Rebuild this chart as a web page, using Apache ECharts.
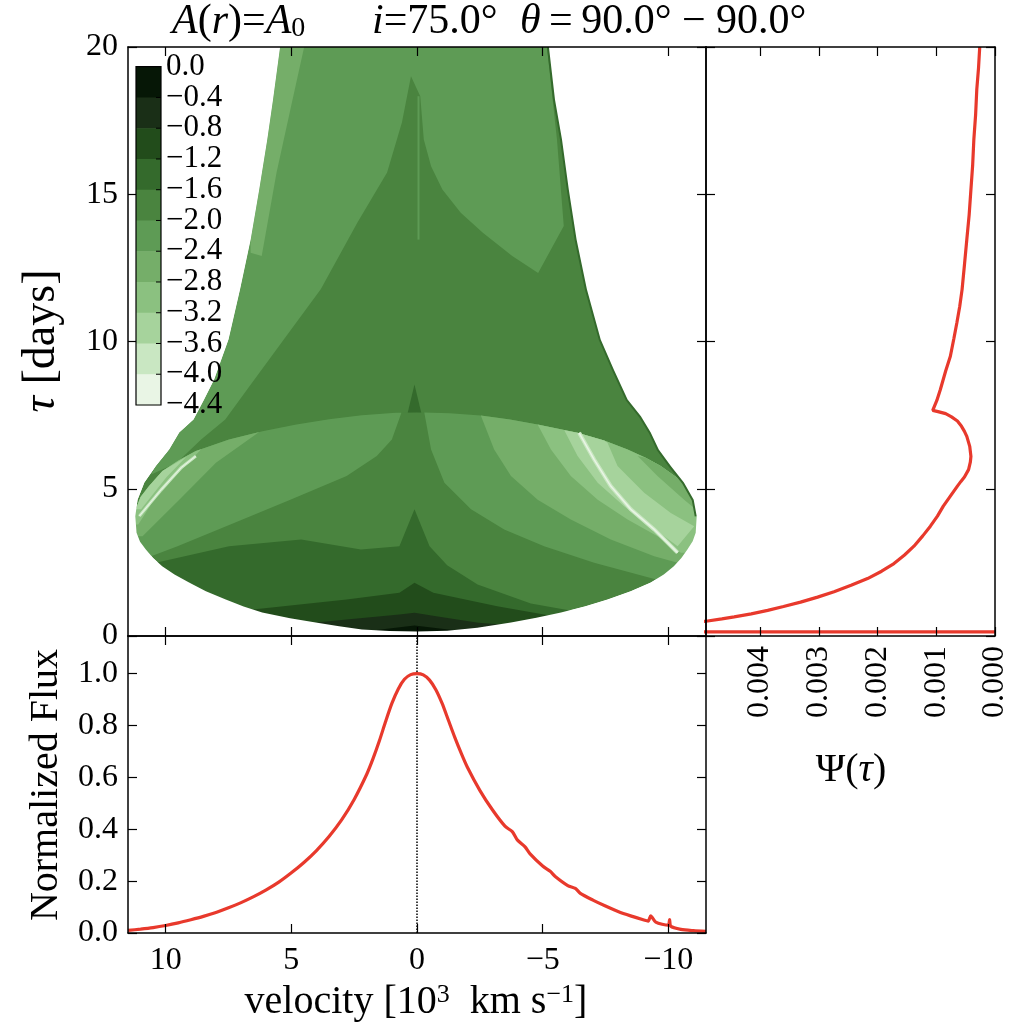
<!DOCTYPE html>
<html>
<head>
<meta charset="utf-8">
<script src="https://cdn.jsdelivr.net/npm/echarts@6/dist/echarts.min.js"></script>
<style>
  html, body { margin: 0; padding: 0; background: #fff; }
  #main { width: 1012px; height: 1028px; }
</style>
</head>
<body>
<div id="main"></div>
<script>
// colour levels of the transfer function (log10), darkest band first
var levelTicks = [0.0, -0.4, -0.8, -1.2, -1.6, -2.0, -2.4, -2.8, -3.2, -3.6, -4.0, -4.4];
var levelColors = ['#061706', '#1a2f17', '#224c1b', '#346a2c', '#4a843f', '#5e9b55',
                   '#75ae69', '#8bc180', '#a6d39c', '#c9e7c2', '#e9f5e5'];

// outlines of the filled regions, [velocity (10^3 km/s), delay (days)]
var towerLeftEdge = [[5.45,20],[5.73,18.22],[5.96,16.86],[6.28,15.16],[6.62,13.46],[7.04,11.77],[7.50,10.07],
  [8.07,8.71],[8.47,8.03],[8.89,7.35],[9.46,6.91],[9.86,6.33],[10.39,5.77],[10.85,5.21],[11.12,4.63]];
var ellipseBottom = [[11.21,4.07],[11.16,3.51],[11.02,3.20],[10.79,2.94],[10.50,2.65],[10.14,2.37],[9.65,2.09],
  [9.07,1.82],[8.40,1.52],[7.61,1.24],[6.90,1.00],[6.16,0.80],[5.05,0.60],[4.03,0.46],[3.10,0.33],[2.19,0.22],
  [1.10,0.17],[0,0.15],[-1.20,0.18],[-2.40,0.28],[-3.74,0.46],[-4.75,0.62],[-5.73,0.80],[-6.70,1.01],
  [-7.58,1.24],[-8.50,1.52],[-9.30,1.82],[-9.82,2.09],[-10.22,2.37],[-10.52,2.65],[-10.76,2.94],[-10.97,3.22],
  [-11.09,3.51],[-11.13,4.07]];
var towerRightEdge = [[-11.01,4.63],[-10.62,5.21],[-10.10,5.77],[-9.62,6.33],[-9.30,6.91],[-8.91,7.46],
  [-8.38,8.03],[-7.83,9.05],[-7.31,10.07],[-6.76,11.77],[-6.35,13.46],[-6.04,15.16],[-5.77,16.86],
  [-5.49,18.22],[-5.25,20]];
var ellipseTop = [[11.21,4.07],[11.19,4.30],[11.0,4.72],[10.66,5.09],[10.13,5.60],[9.50,5.96],[8.80,6.28],
  [7.48,6.67],[6.15,6.95],[4.80,7.18],[3.50,7.36],[2.20,7.50],[0.85,7.58],[0,7.59],[-1.30,7.56],[-2.54,7.49],
  [-3.70,7.35],[-4.80,7.18],[-6.39,6.90],[-7.45,6.64],[-8.38,6.33],[-9.10,6.05],[-9.70,5.77],[-10.62,5.21],
  [-11.01,4.63],[-11.13,4.07]];
var towerMid = [[5.45,20],[5.73,18.22],[5.96,16.86],[6.28,15.16],[6.62,13.46],[7.04,11.77],[7.50,10.07],
  [8.07,8.71],[8.47,8.03],[8.89,7.35],[9.46,6.91],[9.86,6.33],[10.39,5.77],[10.58,5.48],[9.58,5.87],
  [8.59,6.67],[7.63,7.35],[6.76,8.37],[5.30,10.07],[3.83,11.77],[2.37,14.04],[1.19,15.74],[0.60,17.44],
  [0.24,19.01],[-0.13,18.33],[-0.27,16.86],[-0.56,15.95],[-1.01,15.16],[-1.74,14.37],[-2.62,13.69],
  [-3.79,12.90],[-4.82,12.33],[-5.84,13.92],[-5.57,16.86],[-5.17,20]];
var towerLight = [[5.45,20],[4.49,20],[5.01,17.99],[5.59,15.73],[6.18,12.90],[6.62,13.01],[6.62,13.46],
  [6.28,15.16],[5.96,16.86],[5.73,18.22]];
var towerSpike = [[0.42,7.40],[0.10,8.54],[-0.22,7.40]];
var centreLine = [[-0.06,18.33],[-0.06,13.46]];
var upperLeft5 = [[0.62,7.58],[1.00,6.67],[1.60,6.11],[2.80,5.43],[5.04,4.63],[7.28,3.84],[9.53,3.05],
  [10.58,2.71],[12.2,2.71],[12.2,4.07],[11.21,4.07],[11.19,4.30],[11.0,4.72],[10.66,5.09],[10.13,5.60],
  [9.50,5.96],[8.80,6.28],[7.48,6.67],[6.15,6.95],[4.80,7.18],[3.50,7.36],[2.20,7.50],[0.85,7.58]];
var upperRight5 = [[-0.29,7.59],[-0.56,6.33],[-1.09,5.20],[-2.15,4.30],[-3.47,3.62],[-5.06,3.05],
  [-7.05,2.49],[-9.04,2.03],[-9.6,1.9],[-12.2,1.9],[-12.2,4.07],[-11.13,4.07],[-11.01,4.63],[-10.62,5.21],
  [-9.70,5.77],[-9.10,6.05],[-8.38,6.33],[-7.45,6.64],[-6.39,6.90],[-4.80,7.18],[-3.70,7.35],[-2.54,7.49],
  [-1.30,7.56]];
var right6 = [[-2.54,7.49],[-3.07,6.33],[-3.74,5.43],[-4.80,4.63],[-6.12,3.96],[-7.71,3.28],[-9.44,2.71],
  [-10.37,2.49],[-12.2,2.49],[-12.2,4.07],[-11.13,4.07],[-11.01,4.63],[-10.62,5.21],[-9.70,5.77],
  [-9.10,6.05],[-8.38,6.33],[-7.45,6.64],[-6.39,6.90],[-4.80,7.18],[-3.70,7.35]];
var right7 = [[-4.80,7.18],[-5.33,6.33],[-6.12,5.43],[-7.19,4.63],[-8.38,3.96],[-9.57,3.39],[-10.50,2.83],
  [-12.2,2.83],[-12.2,4.07],[-11.13,4.07],[-11.01,4.63],[-10.62,5.21],[-9.70,5.77],[-9.10,6.05],
  [-8.38,6.33],[-7.45,6.64],[-6.39,6.90]];
var right8 = [[-5.86,6.99],[-6.39,6.11],[-7.19,5.20],[-8.24,4.41],[-9.30,3.73],[-10.37,3.05],[-11.03,3.73],
  [-10.10,4.18],[-9.04,4.86],[-7.98,5.77],[-7.58,6.56],[-7.45,6.64],[-6.39,6.90]];
var rightEdge6 = [[-8.78,6.11],[-9.57,5.43],[-10.63,4.63],[-11.09,4.30],[-11.3,4.3],[-11.01,4.63],
  [-10.62,5.21],[-9.70,5.77],[-9.10,6.05]];
var rightStreak = [[-6.45,6.90],[-7.05,5.99],[-7.71,5.09],[-8.51,4.30],[-9.44,3.62],[-10.37,2.83]];
var left6 = [[11.21,4.07],[11.19,4.30],[11.0,4.72],[10.66,5.09],[10.13,5.60],[9.50,5.96],[8.80,6.28],
  [7.48,6.67],[6.28,6.93],[8.00,5.88],[9.46,4.63],[10.92,3.39],[12.2,3.39],[12.2,4.07]];
var left7 = [[11.19,4.30],[11.0,4.72],[10.66,5.09],[10.13,5.60],[9.50,5.96],[8.80,6.28],[8.59,6.34],
  [9.58,5.45],[10.58,4.47],[11.09,3.79],[12.2,3.79],[12.2,4.30]];
var left8 = [[11.19,4.30],[11.0,4.72],[10.66,5.09],[10.13,5.60],[9.18,6.09],[9.98,5.38],[10.98,4.30]];
var leftStreak = [[11.05,4.07],[10.18,4.97],[9.38,5.72],[8.80,6.11]];
var lower3 = [[10.39,2.49],[7.48,3.05],[4.61,3.28],[2.23,2.94],[0.70,3.05],[0.10,4.30],[-0.50,3.05],
  [-1.2,2.40],[-2.41,1.75],[-4.53,1.10],[-6.32,0.83],[-7,0.5],[-7,-0.5],[12.2,-0.5],[12.2,2.49]];
var lower2 = [[8,0.95],[6.53,0.90],[2.80,1.24],[0.70,1.47],[0.10,1.81],[-0.65,1.47],[-3.19,1.01],
  [-6.18,0.56],[-7,0.3],[-7,-0.5],[8,-0.5]];
var lower1 = [[4.0,0.46],[2.80,0.56],[0.70,0.73],[0.10,0.79],[-0.70,0.68],[-2.44,0.45],[-3.5,0.38],
  [-3.5,-0.5],[4.0,-0.5]];
var lower0 = [[1.6,0.2],[0.85,0.28],[0.10,0.36],[-1.24,0.22],[-1.8,0.18],[-1.8,-0.5],[1.6,-0.5]];

// line profile
var profileV = [11.5, 11.0, 10.5, 10.0, 9.5, 9.0, 8.5, 8.0, 7.5, 7.0, 6.5, 6.0, 5.5, 5.0, 4.5, 4.0, 3.5,
  3.0, 2.5, 2.0, 1.75, 1.5, 1.25, 1.0, 0.75, 0.5, 0.25, 0.0, -0.25, -0.5, -0.75, -1.0, -1.25, -1.5, -1.75,
  -2.0, -2.5, -3.0, -3.5, -3.8, -4.0, -4.3, -4.5, -5.0, -5.3, -5.5, -6.0, -6.3, -6.5, -7.0, -7.5, -8.0,
  -8.5, -9.0, -9.2, -9.3, -9.5, -10.0, -10.05, -10.1, -10.5, -11.0, -11.5];
var profileFlux = [0.010, 0.015, 0.021, 0.029, 0.039, 0.051, 0.064, 0.079, 0.097, 0.117, 0.140, 0.166,
  0.196, 0.232, 0.272, 0.318, 0.372, 0.436, 0.515, 0.612, 0.672, 0.740, 0.815, 0.885, 0.940, 0.978, 0.996,
  1.000, 0.995, 0.975, 0.938, 0.885, 0.820, 0.755, 0.695, 0.640, 0.550, 0.475, 0.412, 0.390, 0.358, 0.332,
  0.305, 0.258, 0.238, 0.218, 0.183, 0.172, 0.153, 0.127, 0.104, 0.083, 0.066, 0.051, 0.046, 0.066, 0.042,
  0.030, 0.052, 0.026, 0.014, 0.009, 0.006];

// response function
var psiTau = [0.14, 0.16, 0.17, 0.30, 0.42, 0.50, 0.58, 0.65, 0.75, 0.87, 1.0, 1.15, 1.32, 1.50, 1.72,
  1.95, 2.2, 2.46, 2.75, 3.05, 3.4, 3.73, 4.07, 4.41, 4.75, 5.09, 5.25, 5.40, 5.65, 5.90, 6.10, 6.44, 6.78,
  6.95, 7.12, 7.30, 7.44, 7.55, 7.62, 7.66, 8.00, 8.37, 9.0, 9.50, 10.1, 10.63, 11.2, 11.77, 12.6, 13.46,
  14.3, 15.16, 16.0, 16.86, 17.7, 18.56, 19.3, 20.0];
var psiVal = [0.0, 0.08, 0.08, 0.012, 0.0065, 0.00492, 0.00465, 0.00444, 0.00415, 0.00387, 0.00360,
  0.00331, 0.00302, 0.00274, 0.00245, 0.00217, 0.00193, 0.00172, 0.00154, 0.00138, 0.00123, 0.00110,
  0.00098, 0.00088, 0.00076, 0.00064, 0.00058, 0.00052, 0.00045, 0.00042, 0.00041, 0.00043, 0.00048,
  0.00052, 0.00057, 0.00064, 0.00074, 0.00084, 0.00097, 0.00106, 0.00099, 0.00093, 0.00084, 0.00076,
  0.00070, 0.00065, 0.00060, 0.00056, 0.00052, 0.00048, 0.00044, 0.00041, 0.00038, 0.00036, 0.00033,
  0.00031, 0.00028, 0.00026];

var velTicks = [-10, -5, 0, 5, 10];
var tauTicks = [0, 5, 10, 15, 20];
var fluxTicks = [0, 0.2, 0.4, 0.6, 0.8, 1.0];
var psiTicks = [0, 0.001, 0.002, 0.003, 0.004];

var serif = 'Liberation Serif';
var red = '#e8392c';
var C = levelColors;

var silhouette = towerLeftEdge.concat(ellipseBottom, towerRightEdge);
var ellipse = ellipseTop.concat(ellipseBottom.slice(1, -1).reverse());
var mask = [[11.6, 20]].concat(silhouette, [[-11.6, 20], [-11.6, -0.5], [11.6, -0.5]]);
var rightRim = ellipseBottom.slice(-1).concat(towerRightEdge);

var layers = [
  { pts: silhouette, fill: C[4] },
  { pts: towerMid, fill: C[5] },
  { pts: towerLight, fill: C[6] },
  { pts: towerSpike, fill: C[3] },
  { pts: centreLine, stroke: C[5], width: 2 },
  { pts: ellipse, fill: C[4] },
  { pts: upperLeft5, fill: C[5] },
  { pts: upperRight5, fill: C[5] },
  { pts: right6, fill: C[6] },
  { pts: right7, fill: C[7] },
  { pts: right8, fill: C[8] },
  { pts: rightEdge6, fill: C[6] },
  { pts: rightStreak, stroke: C[9], width: 4 },
  { pts: rightStreak, stroke: C[10], width: 1.5 },
  { pts: left6, fill: C[6] },
  { pts: left7, fill: C[7] },
  { pts: left8, fill: C[8] },
  { pts: leftStreak, stroke: C[9], width: 3 },
  { pts: leftStreak, stroke: C[10], width: 1 },
  { pts: lower3, fill: C[3] },
  { pts: lower2, fill: C[2] },
  { pts: lower1, fill: C[1] },
  { pts: lower0, fill: C[0] },
  { pts: rightRim, stroke: C[3], width: 4 },
  { pts: mask, fill: '#fff' }
];

function fmtMinus(v) { return v < 0 ? '\u2212' + (-v) : String(v); }

function makeAxis(gridIndex, position, min, max, ticks, inverse, label) {
  return {
    type: 'value', gridIndex: gridIndex, position: position, min: min, max: max, inverse: !!inverse,
    axisLine: { show: true, onZero: false, lineStyle: { color: '#000', width: 1.5 } },
    axisTick: { show: true, inside: true, length: 9, customValues: ticks, lineStyle: { color: '#000', width: 1.2 } },
    axisLabel: label ? Object.assign({ show: true, customValues: ticks, fontFamily: serif, fontSize: 32, color: '#000' }, label) : { show: false },
    splitLine: { show: false },
    z: 10
  };
}

// colour bar
var graphics = [];
var cbLeft = 136, cbTop = 66.7, cbWidth = 25, cbHeight = 338.3;
var cbStep = cbHeight / levelColors.length;
levelColors.forEach(function (c, k) {
  graphics.push({ type: 'rect', z: 100, shape: { x: cbLeft, y: cbTop + k * cbStep, width: cbWidth, height: cbStep + 0.6 }, style: { fill: c } });
});
graphics.push({ type: 'rect', z: 101, shape: { x: cbLeft, y: cbTop, width: cbWidth, height: cbHeight }, style: { fill: null, stroke: '#000', lineWidth: 1.2 } });
levelTicks.forEach(function (t, k) {
  var y = cbTop + k * cbStep;
  if (k > 0 && k < levelTicks.length - 1) {
    graphics.push({ type: 'line', z: 101, shape: { x1: cbLeft + cbWidth - 5, y1: y, x2: cbLeft + cbWidth, y2: y }, style: { stroke: '#000', lineWidth: 1 } });
  }
  graphics.push({ type: 'text', z: 101, style: { text: t.toFixed(1).replace('-', '\u2212'), x: cbLeft + cbWidth + 5, y: y, fontFamily: serif, fontSize: 31, fill: '#000', align: 'left', verticalAlign: 'middle' } });
});

// titles and axis names
var titleSize = 42;
var it = { fontStyle: 'italic', fontFamily: serif, fontSize: titleSize };
graphics.push({ type: 'text', z: 101, style: { text: '{i|A}({i|r})={i|A}{s|0}', x: 172, y: 22, fontFamily: serif, fontSize: titleSize, fill: '#000', verticalAlign: 'middle', rich: { i: it, s: { fontFamily: serif, fontSize: 28, verticalAlign: 'bottom', lineHeight: 20 } } } });
graphics.push({ type: 'text', z: 101, style: { text: '{i|i}=75.0\u00b0', x: 372, y: 22, fontFamily: serif, fontSize: titleSize, fill: '#000', verticalAlign: 'middle', rich: { i: it } } });
graphics.push({ type: 'text', z: 101, style: { text: '{i|\u03b8}\u2009=\u200990.0\u00b0 \u2212 90.0\u00b0', x: 520, y: 22, fontFamily: serif, fontSize: titleSize, fill: '#000', verticalAlign: 'middle', rich: { i: it } } });
graphics.push({ type: 'text', z: 101, rotation: Math.PI / 2, x: 42, y: 341, style: { text: '{i|\u03c4} [days]', x: 0, y: 0, fontFamily: serif, fontSize: 46, fill: '#000', align: 'center', verticalAlign: 'middle', rich: { i: { fontStyle: 'italic', fontFamily: serif, fontSize: 46 } } } });
graphics.push({ type: 'text', z: 101, rotation: Math.PI / 2, x: 46, y: 785, style: { text: 'Normalized Flux', x: 0, y: 0, fontFamily: serif, fontSize: 40, fill: '#000', align: 'center', verticalAlign: 'middle' } });
graphics.push({ type: 'text', z: 101, style: { text: 'velocity [10{sup|3}  km s{sup|\u22121}]', x: 416, y: 1002, fontFamily: serif, fontSize: 40, fill: '#000', align: 'center', verticalAlign: 'middle', rich: { sup: { fontFamily: serif, fontSize: 26, verticalAlign: 'top', lineHeight: 30 } } } });
graphics.push({ type: 'text', z: 101, style: { text: '\u03a8({i|\u03c4})', x: 851, y: 770, fontFamily: serif, fontSize: 40, fill: '#000', align: 'center', verticalAlign: 'middle', rich: { i: { fontStyle: 'italic', fontFamily: serif, fontSize: 40 } } } });

var chart = echarts.init(document.getElementById('main'));
chart.setOption({
  animation: false,
  backgroundColor: '#fff',
  grid: [
    { left: 128, top: 47, width: 578, height: 589 },
    { left: 706, top: 47, width: 289, height: 589 },
    { left: 128, top: 636, width: 578, height: 297 }
  ],
  xAxis: [
    makeAxis(0, 'bottom', -11.5, 11.5, velTicks, true),
    makeAxis(0, 'top', -11.5, 11.5, velTicks, true),
    makeAxis(1, 'bottom', 0, 0.00492, psiTicks, true, { rotate: 90, margin: 10, formatter: function (v) { return v.toFixed(3); } }),
    makeAxis(1, 'top', 0, 0.00492, psiTicks, true),
    makeAxis(2, 'bottom', -11.5, 11.5, velTicks, true, { margin: 12, formatter: fmtMinus }),
    makeAxis(2, 'top', -11.5, 11.5, velTicks, true)
  ],
  yAxis: [
    makeAxis(0, 'left', 0, 20, tauTicks, false, { margin: 10 }),
    makeAxis(0, 'right', 0, 20, tauTicks, false),
    makeAxis(1, 'left', 0, 20, tauTicks, false),
    makeAxis(1, 'right', 0, 20, tauTicks, false),
    makeAxis(2, 'left', 0, 1.145, fluxTicks, false, { margin: 10, formatter: function (v) { return v.toFixed(1); } }),
    makeAxis(2, 'right', 0, 1.145, fluxTicks, false)
  ],
  graphic: { elements: graphics },
  series: [
    {
      type: 'custom', xAxisIndex: 0, yAxisIndex: 0, clip: true, z: 2,
      data: layers.map(function (l, i) { return [0, 10, i]; }),
      renderItem: function (params, api) {
        var l = layers[params.dataIndex];
        var pts = l.pts.map(function (p) { return api.coord(p); });
        if (l.stroke) {
          return { type: 'polyline', z2: params.dataIndex, shape: { points: pts }, style: { fill: null, stroke: l.stroke, lineWidth: l.width } };
        }
        return { type: 'polygon', z2: params.dataIndex, shape: { points: pts }, style: { fill: l.fill, stroke: null } };
      }
    },
    {
      type: 'line', xAxisIndex: 2, yAxisIndex: 2, z: 3, showSymbol: false, clip: true,
      data: psiTau.map(function (t, i) { return [psiVal[i], t]; }),
      lineStyle: { color: red, width: 3.2 }
    },
    {
      type: 'line', xAxisIndex: 4, yAxisIndex: 4, z: 3, showSymbol: false,
      data: [[0, 0], [0, 1.145]],
      lineStyle: { color: '#000', width: 1.5, type: 'dotted' }
    },
    {
      type: 'line', xAxisIndex: 4, yAxisIndex: 4, z: 4, showSymbol: false, clip: true, smooth: 0.25,
      data: profileV.map(function (v, i) { return [v, profileFlux[i]]; }),
      lineStyle: { color: red, width: 3.2 }
    }
  ]
});
</script>
</body>
</html>
